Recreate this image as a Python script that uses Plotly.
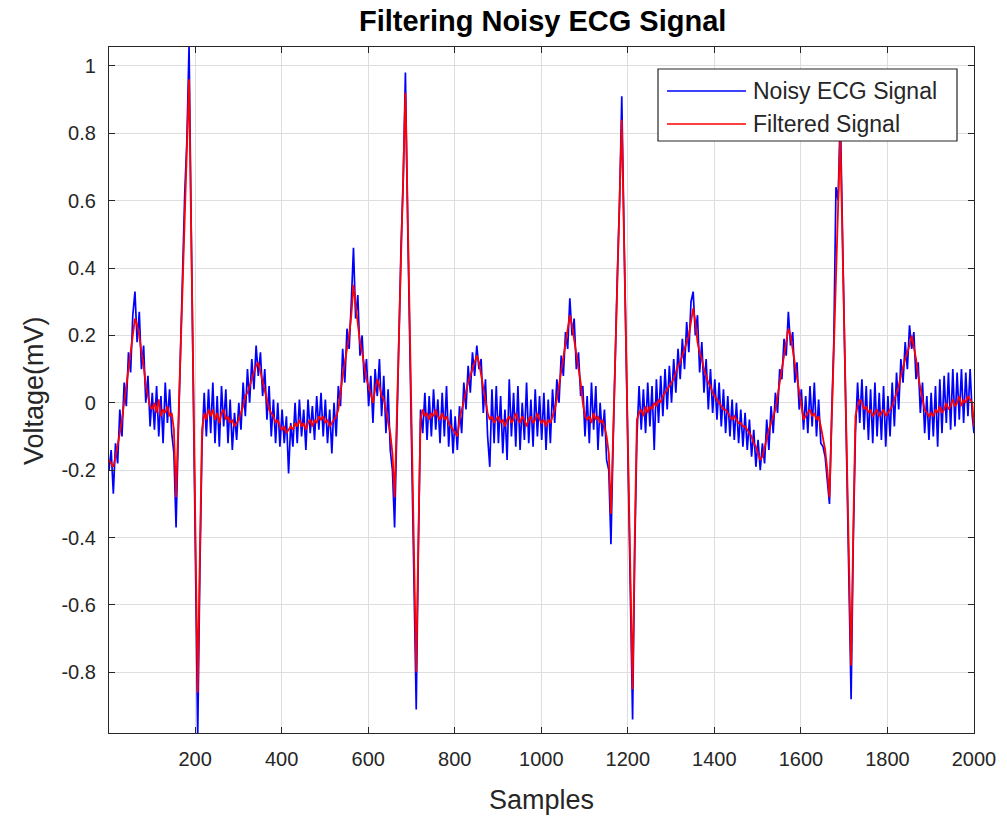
import plotly.graph_objects as go

# sample index (every 5th sample, plus the last one)
samples = list(range(1, 2000, 5)) + [2000]

noisy_ecg = [
    -0.20, -0.14, -0.27, -0.12, -0.18, -0.02, -0.10, 0.06, -0.01, 0.15, 0.09, 0.26, 0.33, 0.18, 0.27, 0.10, 0.17, 0.00, 0.08, -0.07,
    0.03, -0.08, 0.05, -0.10, 0.02, -0.12, 0.06, -0.06, 0.04, -0.09, -0.15, -0.37, -0.10, 0.15, 0.33, 0.62, 0.78, 1.06, 0.52, 0.02,
    -0.47, -0.99, -0.50, -0.12, 0.03, -0.10, 0.04, -0.09, 0.06, -0.12, 0.02, -0.13, 0.05, -0.07, 0.04, -0.12, 0.01, -0.14, -0.03, -0.11,
    0.00, -0.08, 0.06, -0.04, 0.10, 0.00, 0.13, 0.04, 0.17, 0.08, 0.15, 0.02, 0.10, -0.05, 0.05, -0.10, 0.01, -0.12, 0.00, -0.13,
    -0.02, -0.12, -0.04, -0.21, -0.06, -0.13, 0.00, -0.12, 0.01, -0.10, -0.02, -0.14, 0.01, -0.09, -0.01, -0.11, 0.02, -0.08, 0.03, -0.10,
    0.01, -0.12, -0.02, -0.15, 0.00, -0.10, 0.05, -0.01, 0.16, 0.06, 0.22, 0.16, 0.30, 0.46, 0.25, 0.32, 0.14, 0.20, 0.06, 0.13,
    -0.01, 0.08, -0.06, 0.10, 0.02, 0.13, -0.04, 0.08, -0.09, 0.04, -0.14, -0.20, -0.37, -0.08, 0.22, 0.47, 0.66, 0.98, 0.55, 0.20,
    -0.13, -0.48, -0.91, -0.43, -0.02, -0.09, 0.03, -0.11, 0.02, -0.10, 0.04, -0.08, 0.01, -0.12, 0.03, -0.10, 0.05, -0.13, -0.02, -0.15,
    -0.04, -0.14, -0.01, -0.09, 0.06, -0.02, 0.11, 0.03, 0.15, 0.08, 0.17, 0.10, 0.13, -0.03, 0.07, -0.10, -0.19, 0.04, -0.12, 0.05,
    -0.12, 0.02, -0.15, -0.02, -0.17, 0.07, -0.10, 0.03, -0.13, 0.05, -0.14, 0.00, -0.11, 0.06, -0.12, 0.01, -0.13, 0.04, -0.10, 0.02,
    -0.11, 0.03, -0.14, 0.01, -0.12, 0.04, -0.06, 0.07, 0.00, 0.14, 0.08, 0.21, 0.16, 0.31, 0.20, 0.25, 0.10, 0.15, 0.02, 0.05,
    -0.10, 0.02, -0.12, 0.06, -0.08, 0.05, -0.14, 0.00, -0.10, -0.02, -0.17, -0.20, -0.42, -0.12, 0.16, 0.39, 0.60, 0.91, 0.52, 0.14,
    -0.19, -0.53, -0.94, -0.44, -0.10, 0.05, -0.08, 0.04, -0.09, 0.06, -0.07, 0.05, -0.14, 0.07, -0.06, 0.08, -0.04, 0.10, -0.02, 0.11,
    0.00, 0.13, 0.03, 0.16, 0.07, 0.19, 0.10, 0.24, 0.15, 0.30, 0.33, 0.20, 0.26, 0.09, 0.18, 0.03, 0.13, -0.02, 0.10, -0.03,
    0.07, -0.05, 0.06, -0.07, 0.04, -0.09, 0.02, -0.10, 0.01, -0.11, 0.00, -0.12, -0.02, -0.13, -0.03, -0.14, -0.05, -0.16, -0.08, -0.19,
    -0.11, -0.20, -0.12, -0.18, -0.05, -0.14, -0.01, -0.09, 0.03, -0.03, 0.10, 0.07, 0.19, 0.14, 0.27, 0.17, 0.21, 0.06, 0.12, -0.02,
    0.04, -0.08, 0.02, -0.09, 0.05, -0.07, 0.06, -0.10, 0.01, -0.12, -0.13, -0.16, -0.24, -0.30, -0.04, 0.18, 0.64, 0.60, 0.86, 0.50,
    0.15, -0.17, -0.48, -0.88, -0.41, -0.09, 0.06, -0.06, 0.07, -0.08, 0.05, -0.11, 0.04, -0.12, 0.06, -0.10, 0.03, -0.11, 0.05, -0.13,
    0.02, -0.10, 0.06, -0.07, 0.09, -0.02, 0.13, 0.06, 0.18, 0.10, 0.23, 0.16, 0.21, 0.07, 0.12, -0.03, 0.06, -0.09, 0.02, -0.11,
    0.03, -0.10, 0.05, -0.13, 0.07, -0.09, 0.08, -0.06, 0.09, -0.08, 0.10, -0.07, 0.09, -0.05, 0.10, -0.06, 0.09, -0.04, 0.10, -0.04,
    -0.09,
]

filtered_ecg = [
    -0.17, -0.18, -0.19, -0.16, -0.13, -0.09, -0.05, 0.00, 0.05, 0.10, 0.14, 0.20, 0.25, 0.23, 0.20, 0.15, 0.11, 0.05, 0.02, -0.01,
    -0.02, 0.00, -0.03, 0.01, -0.04, -0.02, -0.03, -0.01, -0.04, -0.03, -0.08, -0.28, -0.07, 0.13, 0.34, 0.55, 0.75, 0.96, 0.50, 0.05,
    -0.40, -0.86, -0.45, -0.08, -0.03, -0.05, -0.02, -0.04, -0.02, -0.05, -0.03, -0.06, -0.03, -0.02, -0.05, -0.04, -0.06, -0.05, -0.07, -0.06,
    -0.05, -0.03, -0.01, 0.02, 0.03, 0.05, 0.07, 0.09, 0.11, 0.12, 0.09, 0.06, 0.04, 0.01, -0.02, -0.03, -0.04, -0.06, -0.05, -0.07,
    -0.08, -0.07, -0.09, -0.08, -0.07, -0.08, -0.06, -0.07, -0.05, -0.07, -0.06, -0.08, -0.06, -0.05, -0.07, -0.05, -0.06, -0.04, -0.05, -0.04,
    -0.06, -0.05, -0.07, -0.06, -0.05, -0.04, -0.02, 0.04, 0.08, 0.12, 0.16, 0.20, 0.26, 0.35, 0.29, 0.24, 0.18, 0.15, 0.11, 0.07,
    0.05, 0.02, 0.00, 0.04, 0.07, 0.05, 0.02, 0.01, -0.02, -0.05, -0.09, -0.15, -0.28, -0.05, 0.20, 0.44, 0.68, 0.92, 0.58, 0.23,
    -0.11, -0.46, -0.80, -0.40, -0.05, -0.02, -0.04, -0.03, -0.05, -0.03, -0.04, -0.02, -0.04, -0.05, -0.03, -0.05, -0.04, -0.06, -0.07, -0.08,
    -0.09, -0.10, -0.05, -0.02, 0.01, 0.04, 0.06, 0.08, 0.10, 0.12, 0.14, 0.12, 0.08, 0.04, 0.00, -0.03, -0.05, -0.04, -0.06, -0.05,
    -0.04, -0.06, -0.05, -0.07, -0.05, -0.04, -0.06, -0.05, -0.03, -0.05, -0.06, -0.04, -0.05, -0.07, -0.05, -0.04, -0.06, -0.05, -0.03, -0.05,
    -0.06, -0.05, -0.07, -0.05, -0.06, -0.04, -0.02, 0.01, 0.05, 0.09, 0.13, 0.17, 0.21, 0.26, 0.23, 0.19, 0.14, 0.10, 0.06, 0.00,
    -0.04, -0.05, -0.04, -0.06, -0.03, -0.05, -0.04, -0.06, -0.05, -0.07, -0.10, -0.15, -0.33, -0.10, 0.14, 0.37, 0.61, 0.84, 0.50, 0.17,
    -0.17, -0.51, -0.85, -0.40, -0.05, -0.03, -0.02, -0.04, -0.01, -0.03, -0.01, -0.02, 0.00, -0.01, 0.01, 0.00, 0.02, 0.03, 0.04, 0.05,
    0.06, 0.07, 0.09, 0.11, 0.12, 0.14, 0.16, 0.18, 0.20, 0.24, 0.28, 0.24, 0.18, 0.15, 0.13, 0.10, 0.08, 0.06, 0.05, 0.03,
    0.02, 0.01, 0.00, -0.01, -0.02, -0.02, -0.03, -0.04, -0.05, -0.04, -0.05, -0.06, -0.06, -0.07, -0.07, -0.08, -0.09, -0.10, -0.12, -0.13,
    -0.15, -0.17, -0.16, -0.13, -0.10, -0.08, -0.06, -0.04, -0.02, 0.02, 0.06, 0.11, 0.15, 0.19, 0.22, 0.20, 0.16, 0.11, 0.07, 0.03,
    0.00, -0.05, -0.04, -0.03, -0.02, -0.04, -0.03, -0.05, -0.04, -0.07, -0.10, -0.14, -0.20, -0.28, -0.06, 0.15, 0.37, 0.58, 0.80, 0.48,
    0.17, -0.15, -0.46, -0.78, -0.38, -0.04, -0.01, 0.01, 0.00, -0.02, -0.01, -0.03, -0.02, -0.04, -0.03, -0.02, -0.04, -0.03, -0.02, -0.04,
    -0.03, -0.02, -0.01, 0.01, 0.03, 0.05, 0.08, 0.11, 0.13, 0.15, 0.17, 0.20, 0.17, 0.13, 0.08, 0.04, 0.01, -0.02, -0.03, -0.04,
    -0.03, -0.04, -0.02, -0.03, -0.01, -0.03, -0.02, 0.00, -0.02, -0.01, 0.01, -0.01, 0.00, 0.02, -0.01, 0.01, 0.00, 0.02, 0.01, 0.00,
    -0.07,
]

x_tick_values = [200, 400, 600, 800, 1000, 1200, 1400, 1600, 1800, 2000]
y_tick_values = [-0.8, -0.6, -0.4, -0.2, 0, 0.2, 0.4, 0.6, 0.8, 1]
y_tick_labels = ["-0.8", "-0.6", "-0.4", "-0.2", "0", "0.2", "0.4", "0.6", "0.8", "1"]
series_names = ["Noisy ECG Signal", "Filtered Signal"]
series_colors = ["#0000ff", "#ff0000"]

FONT = "Liberation Sans, Arial, Helvetica, sans-serif"
AX = "#262626"

fig = go.Figure()
fig.add_trace(go.Scatter(x=samples, y=noisy_ecg, mode="lines", name=series_names[0],
                         line=dict(color=series_colors[0], width=1.7), showlegend=False))
fig.add_trace(go.Scatter(x=samples, y=filtered_ecg, mode="lines", name=series_names[1],
                         line=dict(color=series_colors[1], width=1.8), showlegend=False))

W, H = 1007, 817
L, R, T, B = 109, 33, 47, 84
pw, ph = W - L - R, H - T - B

def px(x):
    return (x - L) / pw

def py(y):
    return (H - B - y) / ph

# MATLAB-style legend box drawn on top of the data
lx0, lx1, ly0, ly1 = 658, 957, 69, 141
shapes = [
    dict(type="rect", xref="paper", yref="paper", x0=px(lx0), x1=px(lx1), y0=py(ly1), y1=py(ly0),
         fillcolor="white", line=dict(color=AX, width=1.2), layer="above"),
]
annotations = []
for i, (nm, col) in enumerate(zip(series_names, series_colors)):
    yy = 91 + i * 33
    shapes.append(dict(type="line", xref="paper", yref="paper", x0=px(667), x1=px(746),
                       y0=py(yy), y1=py(yy), line=dict(color=col, width=1.4), layer="above"))
    annotations.append(dict(text=nm, xref="paper", yref="paper", x=px(751), y=py(yy),
                            xanchor="left", yanchor="middle", showarrow=False,
                            font=dict(family=FONT, size=23, color=AX)))

annotations.append(dict(text="<b>Filtering Noisy ECG Signal</b>", xref="paper", yref="paper",
                        x=px(542), y=py(21), xanchor="center", yanchor="middle", showarrow=False,
                        font=dict(family=FONT, size=29, color="#000000")))
annotations.append(dict(text="Samples", xref="paper", yref="paper", x=px(541), y=py(800),
                        xanchor="center", yanchor="middle", showarrow=False,
                        font=dict(family=FONT, size=27, color=AX)))
annotations.append(dict(text="Voltage(mV)", xref="paper", yref="paper", x=px(34), y=py(391),
                        xanchor="center", yanchor="middle", showarrow=False, textangle=-90,
                        font=dict(family=FONT, size=27, color=AX)))

fig.update_layout(
    width=W, height=H,
    margin=dict(l=L, r=R, t=T, b=B, pad=0),
    paper_bgcolor="white", plot_bgcolor="white",
    font=dict(family=FONT, size=20, color=AX),
    shapes=shapes, annotations=annotations,
)
fig.update_xaxes(range=[1, 2000], tickvals=x_tick_values, ticks="inside", ticklen=6,
                 tickcolor=AX, showline=True, linecolor=AX, linewidth=1.3, mirror="ticks",
                 showgrid=True, gridcolor="#dedede", gridwidth=1, zeroline=False,
                 tickfont=dict(family=FONT, size=20, color=AX), ticklabelstandoff=8)
fig.update_yaxes(range=[-0.98, 1.056], tickvals=y_tick_values, ticktext=y_tick_labels,
                 ticks="inside", ticklen=6, tickcolor=AX, showline=True, linecolor=AX,
                 linewidth=1.3, mirror="ticks", showgrid=True, gridcolor="#dedede", gridwidth=1,
                 zeroline=False, tickfont=dict(family=FONT, size=20, color=AX), ticklabelstandoff=8)

fig.write_html("out.html", config={"displayModeBar": False},
               post_script="document.body.style.margin='0px';")
